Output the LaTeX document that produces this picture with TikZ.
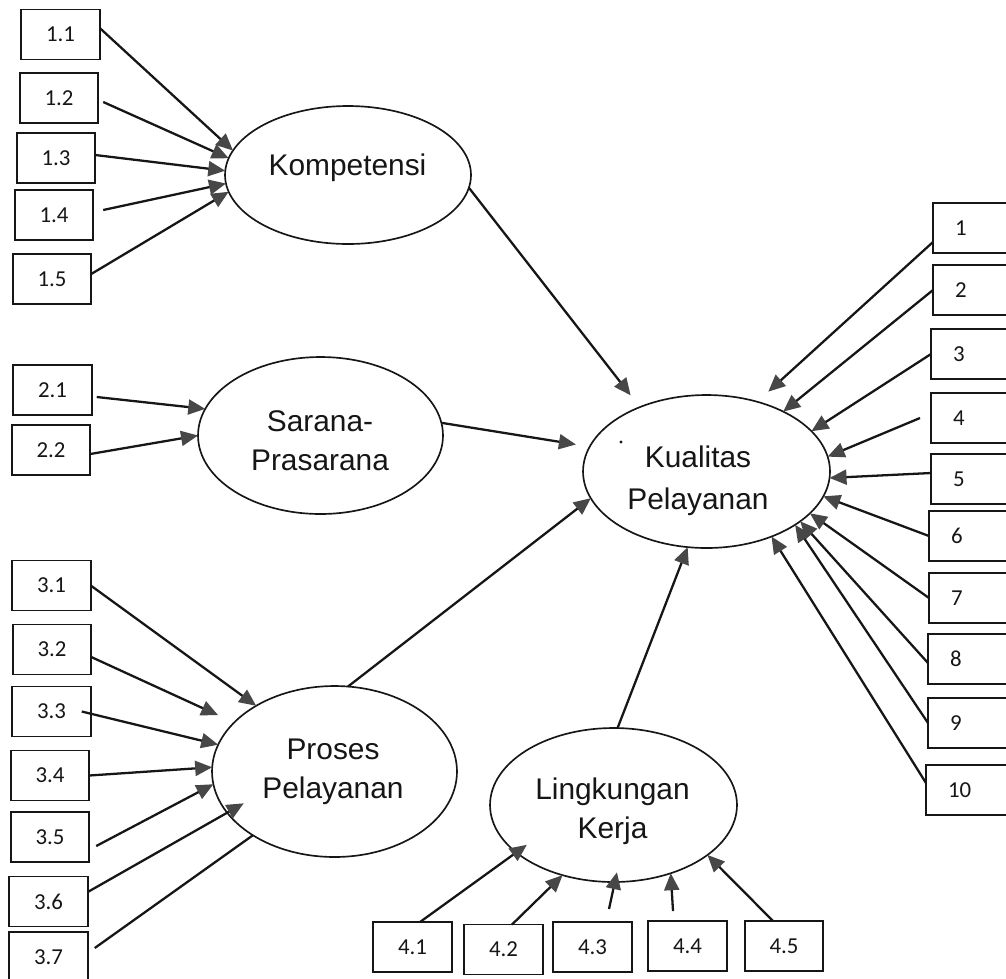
\documentclass[tikz,border=0pt]{standalone}
\usepackage{fontspec}
\setsansfont{Liberation Sans}
\newfontfamily\indfont{Carlito}
\usepackage{tikz}
\usetikzlibrary{arrows.meta,shapes.geometric}
\definecolor{ink}{HTML}{161616}
\definecolor{tipgray}{HTML}{474747}

\begin{document}
\begin{tikzpicture}[x=0.02cm, y=-0.02cm,
		construct/.style={draw=ink, ellipse, line width=0.95pt, inner sep=0pt, outer sep=0pt},
		vartext/.style={font=\sffamily\fontsize{17}{22}\selectfont, align=center, text=ink},
		ind/.style={draw=ink, line width=1pt, minimum width=1.57cm, minimum height=1cm, inner sep=0pt, outer sep=0pt, font=\indfont\fontsize{13}{15}\selectfont, text=ink},
		indr/.style={ind, anchor=west, text width=1.36cm, align=left, inner xsep=0.44cm},
		flow/.style={-{Triangle[length=3.4mm, width=3mm, fill=tipgray, color=tipgray]}, line width=1.3pt, draw=ink},
		link/.style={line width=1.3pt, draw=ink}]
		\useasboundingbox (0,0) rectangle (1006,978);

		\node[construct, minimum width=4.92cm, minimum height=2.76cm] (komp) at (348,175) {};
		\node[vartext] (kompt) at (347.5,168) {Kompetensi};
		\node[construct, minimum width=4.9cm, minimum height=3.14cm] (sara) at (320.5,435.5) {};
		\node[vartext] (sarat) at (320,441) {Sarana-\\Prasarana};
		\node[construct, minimum width=4.94cm, minimum height=3.06cm] (kual) at (706.5,471.5) {};
		\node[vartext] (kualt) at (698,481) {Kualitas\\[0.6mm]Pelayanan};
		\node[construct, minimum width=4.9cm, minimum height=3.42cm] (prc) at (334.5,771.5) {};
		\node[vartext] (prct) at (333,772) {Proses\\Pelayanan};
		\node[construct, minimum width=4.94cm, minimum height=3.08cm] (lkg) at (613.5,805) {};
		\node[vartext] (lkgt) at (612.5,811) {Lingkungan\\Kerja};
		\fill[ink] (621,442) circle (1.6);

		\node[ind] (b11) at (60.5,34.5) {1.1};
		\node[ind] (b12) at (59,98) {1.2};
		\node[ind] (b13) at (56,158) {1.3};
		\node[ind] (b14) at (54,215) {1.4};
		\node[ind] (b15) at (52,279) {1.5};
		\node[ind] (b21) at (52.5,390) {2.1};
		\node[ind] (b22) at (51,450) {2.2};
		\node[ind] (b31) at (51.5,585.5) {3.1};
		\node[ind] (b32) at (52,649.5) {3.2};
		\node[ind] (b33) at (51.5,711.5) {3.3};
		\node[ind] (b34) at (50,775.5) {3.4};
		\node[ind] (b35) at (50,837) {3.5};
		\node[ind] (b36) at (48.5,901.5) {3.6};
		\node[ind] (b37) at (48.5,957) {3.7};
		\node[ind] (b41) at (412.5,947) {4.1};
		\node[ind] (b42) at (503.5,949.5) {4.2};
		\node[ind] (b43) at (592.5,947) {4.3};
		\node[ind] (b44) at (687.5,946) {4.4};
		\node[ind] (b45) at (784,946) {4.5};

		\node[indr] (r1) at (933,228) {1};
		\node[indr] (r2) at (933,290) {2};
		\node[indr] (r3) at (931,354) {3};
		\node[indr] (r4) at (931,418) {4};
		\node[indr] (r5) at (931,479) {5};
		\node[indr] (r6) at (929,536) {6};
		\node[indr] (r7) at (929,598) {7};
		\node[indr] (r8) at (928,659) {8};
		\node[indr] (r9) at (928,723) {9};
		\node[indr] (r10) at (926,790) {10};

		\draw[flow] ([yshift=1.3mm]b11.east) -- (komp.168);
		\draw[flow] ([xshift=1mm,yshift=-0.8mm]b12.east) -- (komp.172);
		\draw[flow] ([yshift=0.6mm]b13.east) -- (komp.178);
		\draw[flow] ([xshift=2mm,yshift=1mm]b14.east) -- (komp.184);
		\draw[flow] ([yshift=1mm]b15.east) -- (komp.188);
		\draw[flow, shorten >=3mm] (komp.-6) -- (kual.136);

		\draw[flow] ([xshift=1mm,yshift=-1.4mm]b21.east) -- (sara.167);
		\draw[flow] ([yshift=-0.8mm]b22.east) -- (sara.west);
		\draw[flow, shorten >=2.8mm] (sara.6) -- (kual.168);

		\draw[flow] (b31.east) -- (prc.140);
		\draw[flow, shorten >=3.5mm] ([yshift=-1.5mm]b32.east) -- (prc.154);
		\draw[flow] ([xshift=-1.8mm]b33.east) -- (prc.167);
		\draw[flow] (b34.east) -- (prc.178);
		\draw[flow] ([xshift=1.4mm,yshift=-1.8mm]b35.east) -- (prc.186);
		\draw[flow, shorten >=-3.8mm] ([yshift=1.9mm]b36.east) -- (prc.201);
		\draw[link] ([xshift=1.4mm,yshift=1.8mm]b37.east) -- (prc.218);
		\draw[flow] (prc.81) -- (kual.193);

		\draw[flow, shorten >=-2.6mm] ([xshift=1.5mm]b41.north) -- (lkg.206);
		\draw[flow] ([xshift=1.7mm]b42.north) -- (lkg.234);
		\draw[flow, shorten >=-2mm] ([xshift=3.3mm,yshift=2.6mm]b43.north) -- (lkg.271);
		\draw[flow] ([xshift=-2.9mm,yshift=2mm]b44.north) -- (lkg.310);
		\draw[flow] ([xshift=-2.2mm]b45.north) -- (lkg.332);
		\draw[flow] (lkg.87) -- (kual.256);

		\draw[flow, shorten >=3mm] ([yshift=-2.8mm]r1.west) -- (kual.54);
		\draw[flow] (r2.west) -- (kual.38);
		\draw[flow] (r3.west) -- (kual.21);
		\draw[flow] ([xshift=-2.2mm]r4.west) -- (kual.7);
		\draw[flow] ([yshift=1.2mm]r5.west) -- (kual.-3);
		\draw[flow] (r6.west) -- (kual.-12);
		\draw[flow] (r7.west) -- (kual.-22);
		\draw[flow] ([yshift=-0.8mm]r8.west) -- (kual.-28);
		\draw[flow] (r9.west) -- (kual.-31);
		\draw[flow] ([yshift=1.4mm]r10.west) -- (kual.-45);
	\end{tikzpicture}
\end{document}
